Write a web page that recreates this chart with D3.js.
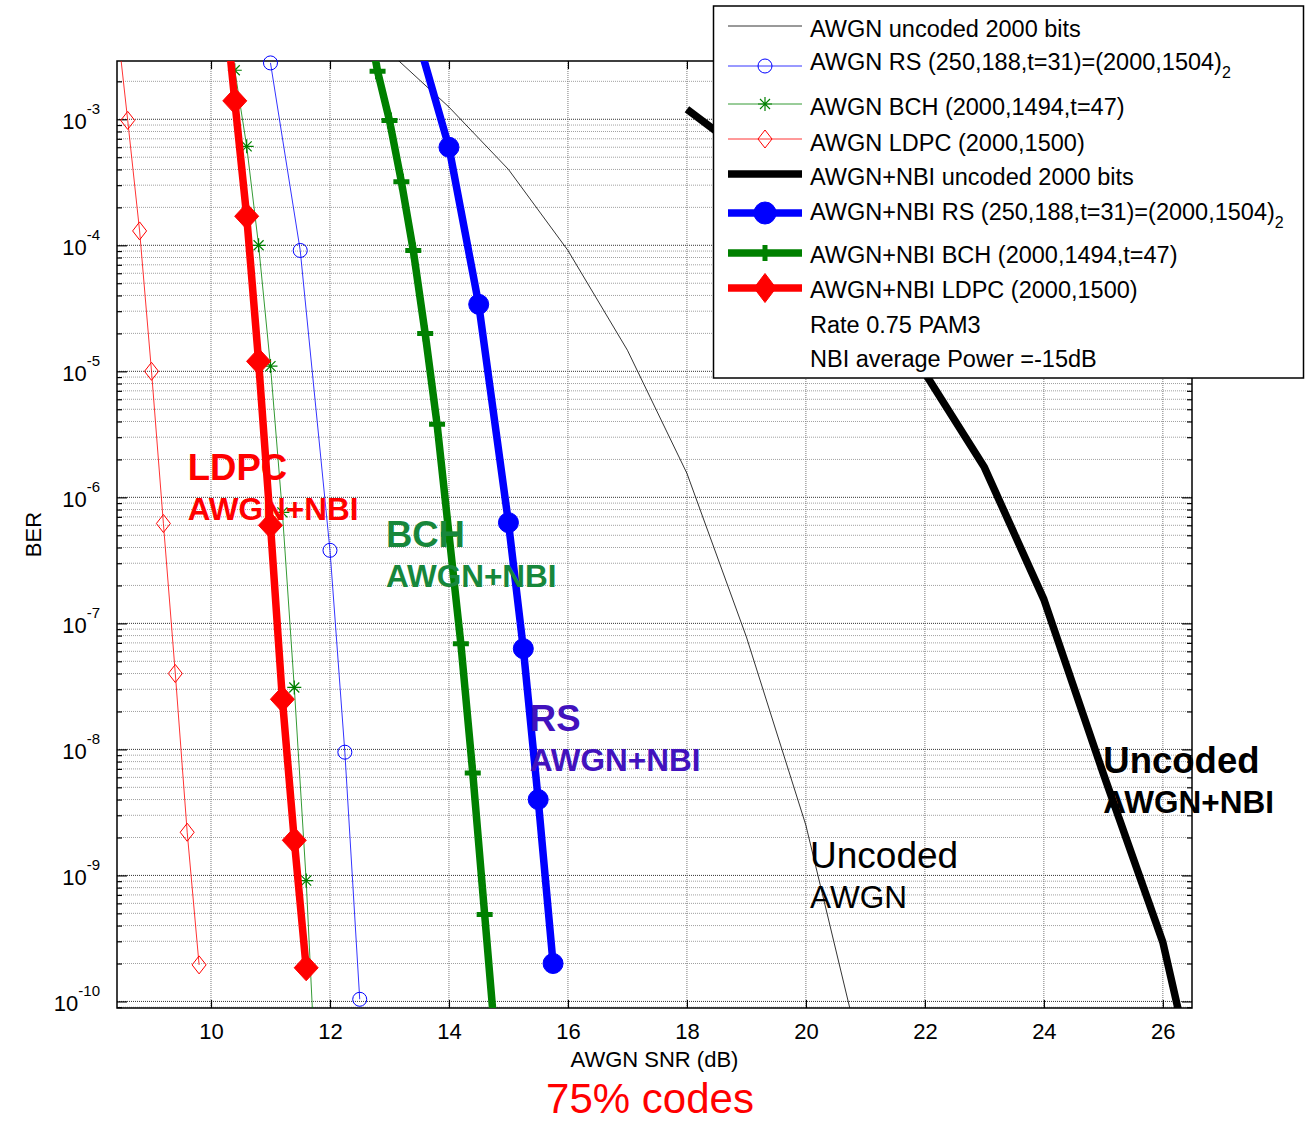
<!DOCTYPE html>
<html>
<head>
<meta charset="utf-8">
<script src="https://cdn.jsdelivr.net/npm/d3@7"></script>
<style>
  body { margin: 0; background: #fff; }
  text { font-family: Arial, "Liberation Sans", Helvetica, sans-serif; }
</style>
</head>
<body>
<svg id="chart"></svg>
<script>
// values (SNR in dB, BER)
const snrAwgnUncoded = [13, 14, 15, 16, 17, 18, 19, 20, 21];
const berAwgnUncoded = [3.4e-3, 1.25e-3, 4e-4, 9.1e-5, 1.47e-5, 1.55e-6, 7.8e-8, 2.5e-9, 2.7e-11];

const snrAwgnRs = [11, 11.5, 12, 12.25, 12.5];
const berAwgnRs = [2.8e-3, 9.1e-5, 3.8e-7, 9.5e-9, 1.04e-10];

const snrAwgnBch = [10.2, 10.4, 10.6, 10.8, 11.0, 11.2, 11.4, 11.6, 11.8];
const berAwgnBch = [8e-3, 2.45e-3, 6.1e-4, 1.0e-4, 1.1e-5, 7.6e-7, 3.1e-8, 9.1e-10, 1e-11];

const snrAwgnLdpc = [8.4, 8.6, 8.8, 9.0, 9.2, 9.4, 9.6, 9.8];
const berAwgnLdpc = [7e-3, 9.8e-4, 1.3e-4, 1.0e-5, 6.2e-7, 4.0e-8, 2.2e-9, 1.95e-10];

const snrNbiUncoded = [18, 19, 20, 21, 22, 23, 24, 25, 26, 27];
const berNbiUncoded = [1.2e-3, 5.3e-4, 1.9e-4, 5e-5, 9.7e-6, 1.73e-6, 1.55e-7, 6.4e-9, 2.95e-10, 2.5e-12];

const snrNbiRs = [13.5, 14, 14.5, 15, 15.25, 15.5, 15.75];
const berNbiRs = [4e-3, 6e-4, 3.4e-5, 6.3e-7, 6.3e-8, 4e-9, 2e-10];

const snrNbiBch = [12.6, 12.8, 13.0, 13.2, 13.4, 13.6, 13.8, 14.0, 14.2, 14.4, 14.6, 14.8];
const berNbiBch = [8e-3, 2.4e-3, 9.8e-4, 3.2e-4, 9.1e-5, 2e-5, 3.8e-6, 5.1e-7, 6.9e-8, 6.5e-9, 4.9e-10, 3.7e-11];

const snrNbiLdpc = [10.2, 10.4, 10.6, 10.8, 11.0, 11.2, 11.4, 11.6];
const berNbiLdpc = [1.2e-2, 1.4e-3, 1.7e-4, 1.2e-5, 6e-7, 2.5e-8, 1.9e-9, 1.85e-10];

const xTicks = [10, 12, 14, 16, 18, 20, 22, 24, 26];
const yTicks = [1e-10, 1e-9, 1e-8, 1e-7, 1e-6, 1e-5, 1e-4, 1e-3];

const legendLabels = [
  "AWGN uncoded 2000 bits",
  "AWGN RS (250,188,t=31)=(2000,1504)",
  "AWGN BCH (2000,1494,t=47)",
  "AWGN LDPC (2000,1500)",
  "AWGN+NBI uncoded 2000 bits",
  "AWGN+NBI RS (250,188,t=31)=(2000,1504)",
  "AWGN+NBI BCH (2000,1494,t=47)",
  "AWGN+NBI LDPC (2000,1500)"
];
const legendSubs = ["", "2", "", "", "", "2", "", ""];
const legendNotes = ["Rate 0.75 PAM3", "NBI average Power =-15dB"];

// curve annotations: [big line, small line, snr, ber]
const notes = [
  ["LDPC", "AWGN+NBI", 9.61, 1.37e-6],
  ["BCH", "AWGN+NBI", 12.94, 4.04e-7],
  ["RS", "AWGN+NBI", 15.36, 1.4e-8],
  ["Uncoded", "AWGN+NBI", 25.0, 6.5e-9],
  ["Uncoded", "AWGN", 20.07, 1.15e-9]
];

const W = 1309, H = 1123;
const plot = {left: 117, right: 1192, top: 61, bottom: 1008};

const svg = d3.select("#chart").attr("width", W).attr("height", H);
svg.append("rect").attr("width", W).attr("height", H).attr("fill", "#fff");

const x = d3.scaleLinear().domain([8.42, 26.49]).range([plot.left, plot.right]);
const y = d3.scaleLog().domain([8.87e-11, 2.9e-3]).range([plot.bottom, plot.top]);

svg.append("clipPath").attr("id", "clip")
  .append("rect")
  .attr("x", plot.left).attr("y", plot.top)
  .attr("width", plot.right - plot.left).attr("height", plot.bottom - plot.top);

// minor values for log grid
const yMinor = [];
for (let e = -11; e <= -3; e++) {
  for (let k = 2; k <= 9; k++) {
    const v = k * Math.pow(10, e);
    if (v >= y.domain()[0] && v <= y.domain()[1]) yMinor.push(v);
  }
}

// grid
const grid = svg.append("g");
grid.selectAll(".gy-minor").data(yMinor).join("line")
  .attr("x1", plot.left).attr("x2", plot.right)
  .attr("y1", d => y(d)).attr("y2", d => y(d))
  .attr("stroke", "#a0a0a0").attr("stroke-width", 1).attr("stroke-dasharray", "1,1");
grid.selectAll(".gy-major").data(yTicks).join("line")
  .attr("x1", plot.left).attr("x2", plot.right)
  .attr("y1", d => y(d)).attr("y2", d => y(d))
  .attr("stroke", "#333").attr("stroke-width", 1).attr("stroke-dasharray", "1,1");
grid.selectAll(".gx").data(xTicks).join("line")
  .attr("x1", d => x(d)).attr("x2", d => x(d))
  .attr("y1", plot.top).attr("y2", plot.bottom)
  .attr("stroke", "#777").attr("stroke-width", 1).attr("stroke-dasharray", "1,1");

// axes, ticks pointing inward like matlab
function styleAxis(g) {
  g.select(".domain").remove();
  g.selectAll(".tick line").attr("stroke", "#000").attr("stroke-width", 1.2);
  g.attr("font-size", null).attr("font-family", null);
}

const gBottom = svg.append("g")
  .attr("transform", `translate(0,${plot.bottom})`)
  .call(d3.axisBottom(x).tickValues(xTicks).tickSizeInner(-8).tickSizeOuter(0).tickPadding(15).tickFormat(d3.format("d")))
  .call(styleAxis);
gBottom.selectAll(".tick text").attr("fill", "#000").style("font-size", "22px");

svg.append("g")
  .attr("transform", `translate(0,${plot.top})`)
  .call(d3.axisTop(x).tickValues(xTicks).tickSize(-8).tickFormat(""))
  .call(styleAxis);

const gLeft = svg.append("g")
  .attr("transform", `translate(${plot.left},0)`)
  .call(d3.axisLeft(y).tickValues(yTicks).tickSize(-10).tickFormat(""))
  .call(styleAxis);
svg.append("g")
  .attr("transform", `translate(${plot.left},0)`)
  .call(d3.axisLeft(y).tickValues(yMinor).tickSize(-5).tickFormat(""))
  .call(styleAxis);
svg.append("g")
  .attr("transform", `translate(${plot.right},0)`)
  .call(d3.axisRight(y).tickValues(yTicks).tickSize(-10).tickFormat(""))
  .call(styleAxis);
svg.append("g")
  .attr("transform", `translate(${plot.right},0)`)
  .call(d3.axisRight(y).tickValues(yMinor).tickSize(-5).tickFormat(""))
  .call(styleAxis);

gLeft.selectAll(".tick").append("text")
  .attr("x", -17).attr("y", 9)
  .attr("text-anchor", "end")
  .attr("fill", "#000")
  .style("font-size", "22px")
  .each(function(d) {
    const t = d3.select(this);
    t.append("tspan").text("10");
    t.append("tspan").attr("dy", -15).style("font-size", "15px").text(Math.round(Math.log10(d)));
  });

// frame
svg.append("rect")
  .attr("x", plot.left).attr("y", plot.top)
  .attr("width", plot.right - plot.left).attr("height", plot.bottom - plot.top)
  .attr("fill", "none").attr("stroke", "#000").attr("stroke-width", 1.5);

// axis titles
svg.append("text")
  .attr("x", (plot.left + plot.right) / 2).attr("y", 1067)
  .attr("text-anchor", "middle").style("font-size", "22px")
  .text("AWGN SNR (dB)");
svg.append("text")
  .attr("transform", `translate(41,${(plot.top + plot.bottom) / 2}) rotate(-90)`)
  .attr("text-anchor", "middle").style("font-size", "22px")
  .text("BER");
svg.append("text")
  .attr("x", 650).attr("y", 1113)
  .attr("text-anchor", "middle").attr("fill", "#ff0000").style("font-size", "42px")
  .text("75% codes");

// marker shapes
function drawMarker(g, type, cx, cy, color, big) {
  if (type === "circleOpen") {
    g.append("circle").attr("cx", cx).attr("cy", cy).attr("r", 7)
      .attr("fill", "none").attr("stroke", color).attr("stroke-width", 1);
  } else if (type === "circleFull") {
    g.append("circle").attr("cx", cx).attr("cy", cy).attr("r", big ? 11 : 10)
      .attr("fill", color).attr("stroke", color).attr("stroke-width", 1);
  } else if (type === "diamondOpen") {
    const hw = 7, hh = 9;
    g.append("path").attr("d", `M${cx},${cy - hh}L${cx + hw},${cy}L${cx},${cy + hh}L${cx - hw},${cy}Z`)
      .attr("fill", "none").attr("stroke", color).attr("stroke-width", 1);
  } else if (type === "diamondFull") {
    const hw = big ? 11 : 12, hh = big ? 14.5 : 13;
    g.append("path").attr("d", `M${cx},${cy - hh}L${cx + hw},${cy}L${cx},${cy + hh}L${cx - hw},${cy}Z`)
      .attr("fill", color).attr("stroke", color).attr("stroke-width", 1);
  } else if (type === "asterisk") {
    const s = 7, t = 5;
    g.append("path")
      .attr("d", `M${cx - s},${cy}H${cx + s}M${cx},${cy - s}V${cy + s}M${cx - t},${cy - t}L${cx + t},${cy + t}M${cx - t},${cy + t}L${cx + t},${cy - t}`)
      .attr("fill", "none").attr("stroke", color).attr("stroke-width", 1.2);
  } else if (type === "plus") {
    const s = 8;
    g.append("path")
      .attr("d", `M${cx - s},${cy}H${cx + s}M${cx},${cy - s}V${cy + s}`)
      .attr("fill", "none").attr("stroke", color).attr("stroke-width", 5);
  }
}

const series = [
  {sx: snrAwgnUncoded, sy: berAwgnUncoded, color: "#000", width: 0.8, marker: null},
  {sx: snrAwgnRs, sy: berAwgnRs, color: "#0000ff", width: 0.8, marker: "circleOpen"},
  {sx: snrAwgnBch, sy: berAwgnBch, color: "#008000", width: 0.8, marker: "asterisk"},
  {sx: snrAwgnLdpc, sy: berAwgnLdpc, color: "#ff0000", width: 0.8, marker: "diamondOpen"},
  {sx: snrNbiUncoded, sy: berNbiUncoded, color: "#000", width: 7.5, marker: null},
  {sx: snrNbiRs, sy: berNbiRs, color: "#0000ff", width: 7.5, marker: "circleFull"},
  {sx: snrNbiBch, sy: berNbiBch, color: "#008000", width: 7.5, marker: "plus"},
  {sx: snrNbiLdpc, sy: berNbiLdpc, color: "#ff0000", width: 7.5, marker: "diamondFull"}
];

const line = d3.line().x(d => x(d[0])).y(d => y(d[1]));
const curves = svg.append("g");

series.forEach(s => {
  const pts = s.sx.map((v, i) => [v, s.sy[i]]);
  curves.append("path")
    .datum(pts)
    .attr("clip-path", "url(#clip)")
    .attr("d", line)
    .attr("fill", "none")
    .attr("stroke", s.color)
    .attr("stroke-width", s.width)
    .attr("stroke-linejoin", "round");
  if (s.marker) {
    const mg = curves.append("g");
    pts.filter(p => p[0] >= x.domain()[0] && p[0] <= x.domain()[1] && p[1] >= y.domain()[0] && p[1] <= y.domain()[1])
      .forEach(p => drawMarker(mg, s.marker, x(p[0]), y(p[1]), s.color, false));
  }
});

// annotations on the curves
const noteColors = ["#ff0000", "#17873b", "#4212bd", "#000", "#000"];
const noteBold = [true, true, true, true, false];
notes.forEach((n, i) => {
  const t = svg.append("text")
    .attr("x", x(n[2])).attr("y", y(n[3]))
    .attr("fill", noteColors[i])
    .style("font-weight", noteBold[i] ? "bold" : "normal");
  t.append("tspan").style("font-size", noteBold[i] ? "36.5px" : "37px").text(n[0]);
  t.append("tspan").attr("x", x(n[2])).attr("dy", 40)
    .style("font-size", "31.5px").text(n[1]);
});

// legend
const legend = svg.append("g");
legend.append("rect")
  .attr("x", 713.5).attr("y", 6)
  .attr("width", 590).attr("height", 372)
  .attr("fill", "#fff").attr("stroke", "#000").attr("stroke-width", 1.5);

const rowLine = [26, 66, 104, 139, 174, 213, 253, 288];
const rowBase = [37, 70, 115, 151, 185, 220, 263, 298];
series.forEach((s, i) => {
  legend.append("line")
    .attr("x1", 728).attr("x2", 802)
    .attr("y1", rowLine[i]).attr("y2", rowLine[i])
    .attr("stroke", s.color).attr("stroke-width", s.width);
  if (s.marker) drawMarker(legend, s.marker, 765, rowLine[i], s.color, true);
  const t = legend.append("text")
    .attr("x", 810).attr("y", rowBase[i])
    .style("font-size", "23.5px")
    .text(legendLabels[i]);
  if (legendSubs[i]) {
    t.append("tspan").attr("dy", 8).style("font-size", "16px").text(legendSubs[i]);
  }
});
legendNotes.forEach((n, i) => {
  legend.append("text")
    .attr("x", 810).attr("y", [333, 367][i])
    .style("font-size", "23.5px")
    .text(n);
});
</script>
</body>
</html>
